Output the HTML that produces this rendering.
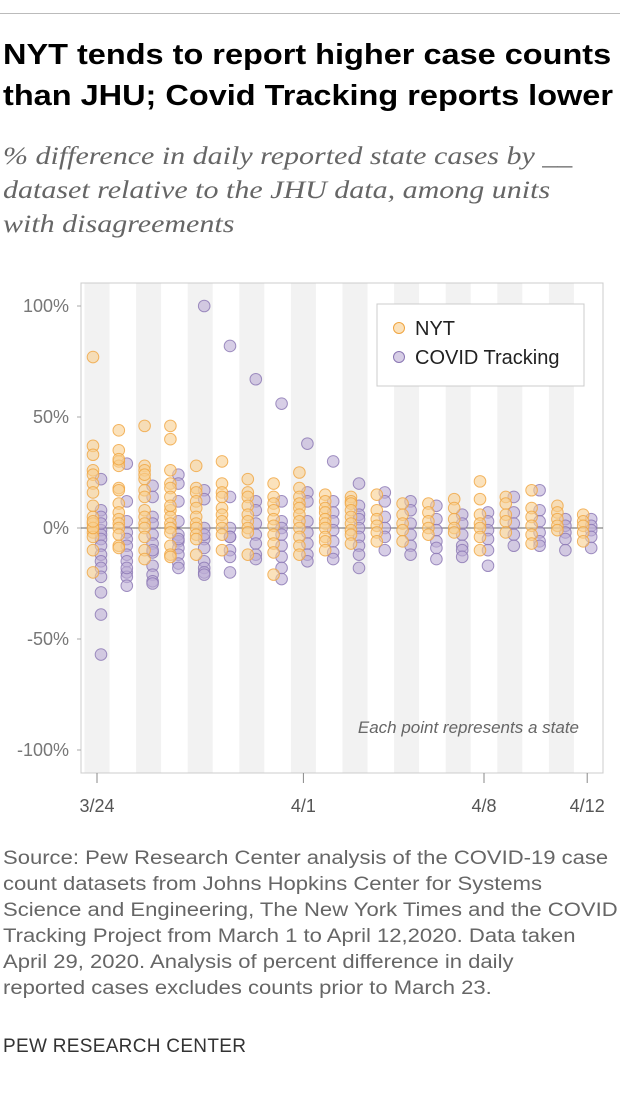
<!DOCTYPE html>
<html><head><meta charset="utf-8">
<style>
body{margin:0;background:#fff;width:620px;height:1106px;overflow:hidden;font-family:"Liberation Sans",sans-serif;}
#rule{position:absolute;left:0;top:13px;width:620px;height:1px;background:#bbb;}
#title{position:absolute;left:3px;top:35px;font-size:29px;font-weight:bold;line-height:41px;color:#000;white-space:nowrap;transform:scaleX(1.12);transform-origin:0 0;}
#sub{position:absolute;left:3px;top:140px;font-family:"Liberation Serif",serif;font-style:italic;font-size:25px;line-height:34px;color:#666;white-space:nowrap;transform:scaleX(1.2);transform-origin:0 0;}
#src{position:absolute;left:3px;top:846px;font-size:19px;line-height:26px;color:#666;white-space:nowrap;transform:scaleX(1.16);transform-origin:0 0;}
#pew{position:absolute;left:3px;top:1036px;font-size:19px;color:#333;letter-spacing:0.3px;white-space:nowrap;}
svg{position:absolute;left:0;top:0;}
</style></head><body>
<div id="rule"></div>
<div id="title">NYT tends to report higher case counts<br>than JHU; Covid Tracking reports lower</div>
<div id="sub">% difference in daily reported state cases by __<br>dataset relative to the JHU data, among units<br>with disagreements</div>
<svg id="chart" width="620" height="840"></svg>
<div id="src">Source: Pew Research Center analysis of the COVID-19 case<br>count datasets from Johns Hopkins Center for Systems<br>Science and Engineering, The New York Times and the COVID<br>Tracking Project from March 1 to April 12,2020. Data taken<br>April 29, 2020. Analysis of percent difference in daily<br>reported cases excludes counts prior to March 23.</div>
<div id="pew">PEW RESEARCH CENTER</div>
<script>
const days=["3/24","3/25","3/26","3/27","3/28","3/29","3/30","3/31","4/1","4/2","4/3","4/4","4/5","4/6","4/7","4/8","4/9","4/10","4/11","4/12"];
const xTickLabels=["3/24","4/1","4/8","4/12"];
const yTicks=[100,50,0,-50,-100];
const nyt=[
[77,37,33,26,24,20,16,10,5,2,0,-2,-4,-10,-20,0,3],
[44,35,30,28,18,17,11,7,4,2,0,-3,-8,-9,31],
[46,28,26,22,17,14,8,5,2,0,-4,-10,-14,24],
[46,40,26,20,18,14,8,5,2,0,-2,-8,-12,-13,10],
[28,18,16,12,9,5,2,0,-3,-5,-12],
[30,20,16,14,9,6,3,0,-3,-10],
[22,16,14,10,6,3,0,-2,-12],
[20,14,11,8,4,1,-3,-7,-11,-21],
[25,18,14,11,9,6,3,0,-4,-8,-12],
[15,12,9,7,4,2,0,-4,-6,-10],
[14,12,11,8,5,2,-1,-3,-7],
[15,8,4,1,-2,-6],
[11,6,2,-1,-6],
[11,7,3,0,-3],
[13,9,4,0,-2],
[21,13,6,2,0,-10,-4],
[14,11,6,3,-2],
[17,9,5,1,-3,-7],
[10,7,4,1,-1],
[6,3,1,-2,-6]];
const covid=[
[22,-1,-3,-5,-8,-12,-15,-18,-22,-29,-39,-57,8,5,2],
[29,12,-2,-5,-8,-12,-15,-20,-22,-26,3,-18],
[19,14,5,2,-3,-7,-11,-17,-21,-24,-25,-10],
[24,20,12,3,-3,-6,-9,-12,-16,-18,-5],
[100,17,13,0,-5,-9,-15,-18,-20,-21,-3],
[82,14,0,-4,-10,-13,-20,-4],
[67,12,2,-3,-7,-12,-14,8],
[56,12,3,0,-3,-8,-13,-18,-23],
[38,16,12,3,-2,-7,-12,-15],
[30,12,7,3,-1,-6,-11,-14],
[20,10,6,4,0,-4,-8,-12,-18],
[16,12,5,0,-4,-10],
[12,8,2,-3,-8,-12],
[10,4,-1,-6,-9,-14],
[6,2,-3,-8,-10,-13],
[7,3,-1,-5,-10,-17],
[14,7,2,-3,-8],
[17,8,3,-2,-6,-8],
[4,1,-2,-5,-10],
[4,1,-1,-4,-9]];
const NS="http://www.w3.org/2000/svg";
const svg=document.getElementById('chart');
const L=81,R=603,T=283,B=773;
const x0=97,dx=25.8;
function xs(i){return x0+i*dx;}
function ys(v){return 528-v*2.22;}
function mk(t,a){const e=document.createElementNS(NS,t);for(const k in a)e.setAttribute(k,a[k]);svg.appendChild(e);return e;}
for(let i=0;i<days.length;i+=2){
 const b=mk('rect',{x:xs(i)-12.5,y:T,width:25,height:B-T,fill:'#f2f2f2'});
 
 
}
const frame=mk('rect',{x:L,y:T,width:R-L,height:B-T,fill:'none',stroke:'#ccc','stroke-width':1});


yTicks.forEach(v=>{
 const t=mk('text',{x:69,y:ys(v)+6,'text-anchor':'end','font-size':18,fill:'#777','font-family':'Liberation Sans,sans-serif'});
 t.textContent=v+'%';
 
 
 const tk=mk('line',{x1:L-4,x2:L,y1:ys(v),y2:ys(v),stroke:'#aaa'});
 
 
});
const zl=mk('line',{x1:L,x2:R,y1:ys(0),y2:ys(0),stroke:'#666','stroke-width':1});


function dots(data,off,fill,stroke,name){
 data.forEach((arr,i)=>arr.forEach(v=>{
  const c=mk('circle',{cx:xs(i)+off,cy:ys(v),r:5.8,fill:fill,stroke:stroke,'stroke-width':1,'fill-opacity':0.6,'stroke-opacity':0.8});
  
  
 }));
}
dots(covid,4,'#bcaed6','#8a76b3','covid-point');
dots(nyt,-4,'#f9cf8f','#f0a540','nyt-point');
xTickLabels.forEach(l=>{
 const i=days.indexOf(l);
 const tk=mk('line',{x1:xs(i),x2:xs(i),y1:B,y2:B+10,stroke:'#888'});
 
 
 const t=mk('text',{x:xs(i),y:812,'text-anchor':'middle','font-size':18,fill:'#555','font-family':'Liberation Sans,sans-serif'});
 t.textContent=l;
 
 
});
const ann=mk('text',{x:579,y:733,'text-anchor':'end','font-size':17,fill:'#666','font-style':'italic','font-family':'Liberation Sans,sans-serif'});
ann.textContent='Each point represents a state';


const lg=mk('rect',{x:377,y:304,width:207,height:82,fill:'#fff',stroke:'#ccc'});


[['NYT','#f9cf8f','#f0a540',331],['COVID Tracking','#bcaed6','#8a76b3',360]].forEach(e=>{
 const c=mk('circle',{cx:399,cy:e[3]-3,r:5.5,fill:e[1],stroke:e[2],'fill-opacity':0.6});
 
 
 const t=mk('text',{x:415,y:e[3]+4,'font-size':20,fill:'#222','font-family':'Liberation Sans,sans-serif'});
 t.textContent=e[0];
 
 
});
</script>
</body></html>
